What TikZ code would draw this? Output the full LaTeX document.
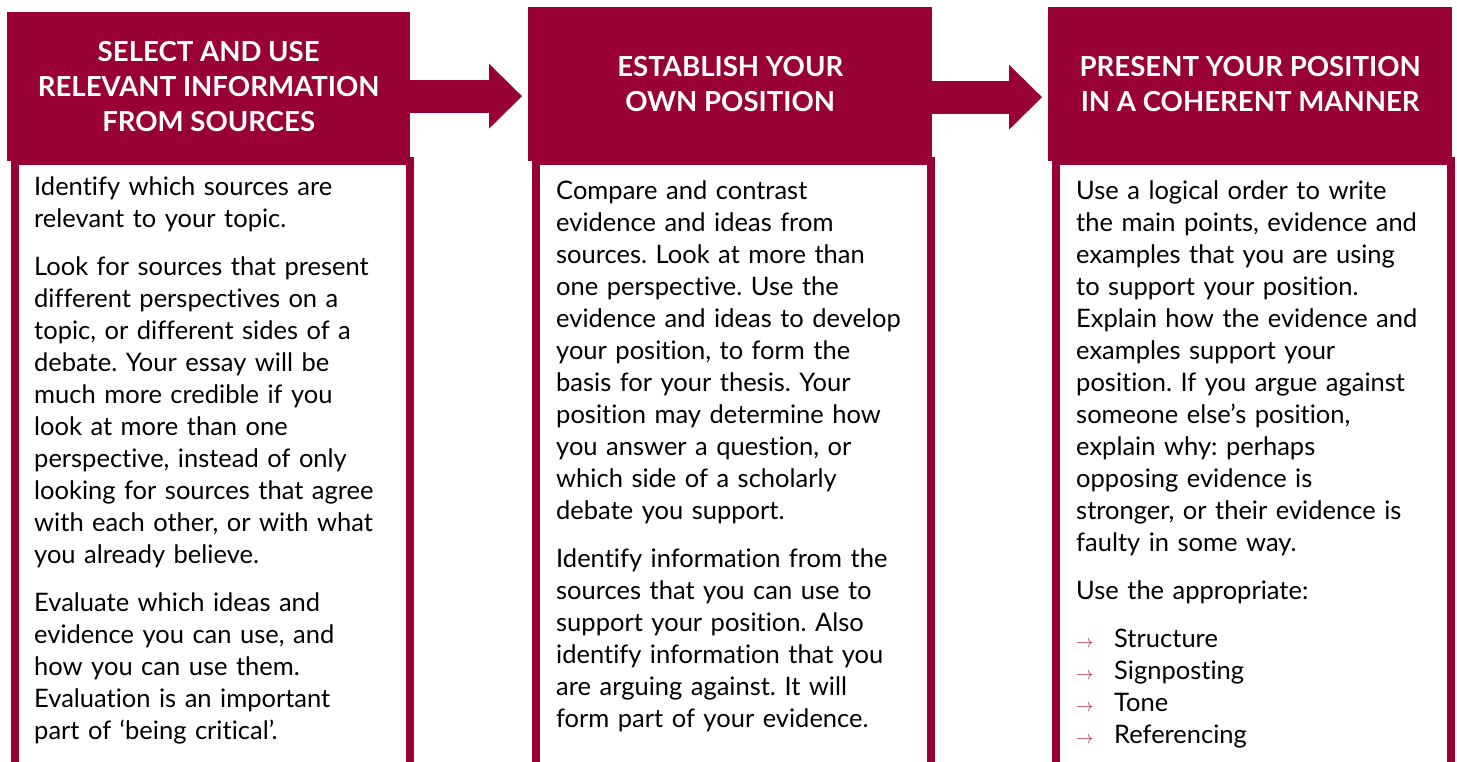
\documentclass[tikz,border=0pt]{standalone}
\usepackage{fontspec}
\setmainfont{Lato}[Ligatures=NoCommon]
\usepackage{tikz}
\usetikzlibrary{calc,positioning}
\usetikzlibrary{arrows.meta}
\definecolor{crimson}{RGB}{153,0,51}
\definecolor{bulletred}{RGB}{184,32,66}
\newcommand{\arrowitem}[1]{\makebox[38pt][l]{\textcolor{bulletred}{\fontsize{16}{16}\selectfont$\rightarrow$}}#1}
\frenchspacing

\begin{document}
\begin{tikzpicture}[x=1pt,y=-1pt]
  \tikzstyle{header} = [fill=crimson, text=white, anchor=north west, inner sep=0pt, align=center, font=\bfseries\fontsize{27.6}{35}\selectfont]
  \tikzstyle{panel} = [draw=crimson, fill=white, line width=8pt, anchor=north west, minimum width=395pt, minimum height=640pt]
  \tikzstyle{body} = [anchor=north west, inner sep=0pt, text width=420pt, align=left, font=\fontsize{25.5}{32}\selectfont]
  \tikzstyle{flow} = [draw=crimson, line width=33pt, -{Triangle[length=33pt,width=65pt,line width=0pt]}, shorten >=6pt]

  \useasboundingbox (0,0) rectangle (1457,762);
  \clip (0,0) rectangle (1457,762);
  \fill[white] (0,0) rectangle (1457,762);

  \node[panel] (p1) at (11,157) {};
  \node[panel] (p2) at (532,157) {};
  \node[panel] (p3) at (1052,157) {};

  \node[header, minimum width=403pt, minimum height=149pt] (h1) at (7,12) {SELECT AND USE\\RELEVANT INFORMATION\\FROM SOURCES};
  \node[header, minimum width=404pt, minimum height=154pt] (h2) at (528,7) {ESTABLISH YOUR\\OWN POSITION};
  \node[header, minimum width=404pt, minimum height=154pt] (h3) at (1048,7) {PRESENT YOUR POSITION\\IN A COHERENT MANNER};

  \path (h1.east) ++(0,9.5) coordinate (a1);
  \path (h2.east) ++(0,13) coordinate (a2);
  \draw[flow] (a1) -- (a1 -| h2.west);
  \draw[flow] (a2) -- (a2 -| h3.west);

  \node[body] (t1) at (34,176.5) {Identify which sources are\\
    relevant to your topic.\\[16pt]
    Look for sources that present\\
    different perspectives on a\\
    topic, or different sides of a\\
    debate. Your essay will be\\
    much more credible if you\\
    look at more than one\\
    perspective, instead of only\\
    looking for sources that agree\\
    with each other, or with what\\
    you already believe.\\[16pt]
    Evaluate which ideas and\\
    evidence you can use, and\\
    how you can use them.\\
    Evaluation is an important\\
    part of ‘being critical’.};

  \node[body] (t2) at (556,181) {Compare and contrast\\
    evidence and ideas from\\
    sources. Look at more than\\
    one perspective. Use the\\
    evidence and ideas to develop\\
    your position, to form the\\
    basis for your thesis. Your\\
    position may determine how\\
    you answer a question, or\\
    which side of a scholarly\\
    debate you support.\\[16pt]
    Identify information from the\\
    sources that you can use to\\
    support your position. Also\\
    identify information that you\\
    are arguing against. It will\\
    form part of your evidence.};

  \node[body] (t3) at (1076,181) {Use a logical order to write\\
    the main points, evidence and\\
    examples that you are using\\
    to support your position.\\
    Explain how the evidence and\\
    examples support your\\
    position. If you argue against\\
    someone else’s position,\\
    explain why: perhaps\\
    opposing evidence is\\
    stronger, or their evidence is\\
    faulty in some way.\\[16pt]
    Use the appropriate:\\[16pt]
    \arrowitem{Structure}\\
    \arrowitem{Signposting}\\
    \arrowitem{Tone}\\
    \arrowitem{Referencing}};
\end{tikzpicture}
\end{document}
